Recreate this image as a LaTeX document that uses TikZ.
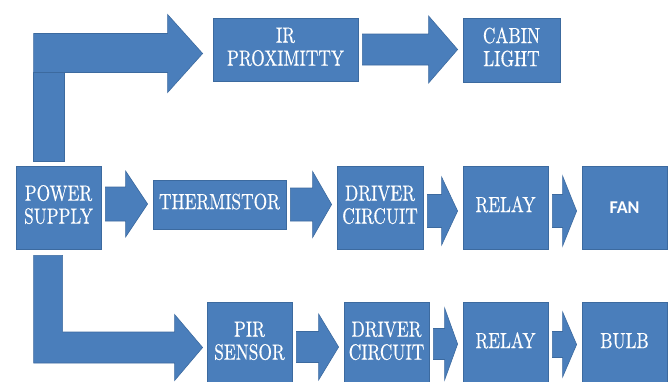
\documentclass[tikz,border=0pt]{standalone}
\usepackage{fontspec}
\newfontfamily\blockfont{lmroman10-regular.otf}[FakeBold=0.6]
\newfontfamily\fanfont{Carlito}
\usetikzlibrary{calc}

\definecolor{blockblue}{HTML}{4A7EBB}
\definecolor{blockedge}{HTML}{3C6A9F}

% narrow, stacked block caption
\newcommand{\BlockText}[1]{\scalebox{0.79}[1]{\begin{tabular}{@{}c@{}}#1\end{tabular}}}

\tikzset{
    block/.style={
        fill=blockblue,
        draw=blockedge,
        line width=0.8pt,
        text=white,
        align=center,
        inner sep=0pt,
        font=\blockfont\fontsize{22}{23}\selectfont
    },
    flowarrow/.style={fill=blockblue, draw=blockedge, line width=0.6pt, line join=miter}
}

% block arrow from one box to the next:
% #1 from, #2 to, #3 vertical shift, #4 shaft half height, #5 head half height, #6 head length
\newcommand{\BlockArrow}[6]{%
    \coordinate (tail) at ($(#1.east)+(4,#3)$);
    \coordinate (tip) at ($(tail -| #2.west)+(-5,0)$);
    \draw[flowarrow] ($(tail)+(0,-#4)$) -- ($(tip)+(-#6,-#4)$) -- ($(tip)+(-#6,-#5)$)
        -- (tip) -- ($(tip)+(-#6,#5)$) -- ($(tip)+(-#6,#4)$) -- ($(tail)+(0,#4)$) -- cycle;
}

\begin{document}
\begin{tikzpicture}[x=1pt,y=-1pt]

% page
\fill[white] (0,0) rectangle (668,381);
\useasboundingbox (0,0) rectangle (668,381);

% =====================================================
% BLOCKS
% =====================================================
\node[block, minimum width=85pt, minimum height=83pt] (psu) at (58.5,207.5) {\BlockText{POWER\\SUPPLY}};

% top row
\node[block, minimum width=145pt, minimum height=63pt] (ir) at (285.5,49.5) {\BlockText{IR\\PROXIMITTY}};
\node[block, minimum width=97pt, minimum height=64pt] (cab) at (511.5,50) {\BlockText{CABIN\\LIGHT}};

% middle row
\node[block, minimum width=133pt, minimum height=49pt] (th) at (219.5,204.5) {\BlockText{THERMISTOR}};
\node[block, minimum width=86pt, minimum height=83pt] (drv1) at (380,207.5) {\BlockText{DRIVER\\CIRCUIT}};
\node[block, minimum width=85pt, minimum height=83pt] (rly1) at (505.5,207.5) {\BlockText{RELAY}};
\node[block, minimum width=85pt, minimum height=83pt,
      font=\fanfont\bfseries\fontsize{18}{20}\selectfont] (fan) at (624.5,207.5) {FAN};

% bottom row
\node[block, minimum width=85pt, minimum height=83pt] (pir) at (249.5,343.5) {\BlockText{PIR\\SENSOR}};
\node[block, minimum width=85pt, minimum height=83pt] (drv2) at (386.5,343.5) {\BlockText{DRIVER\\CIRCUIT}};
\node[block, minimum width=85pt, minimum height=83pt] (rly2) at (505.5,343.5) {\BlockText{RELAY}};
\node[block, minimum width=85pt, minimum height=83pt] (bulb) at (624.5,343.5) {\BlockText{BULB}};

% =====================================================
% BENT ARROWS OUT OF THE SUPPLY
% =====================================================
\coordinate (upfoot) at ($(psu.north west)+(18,-4)$);
\coordinate (uptip) at ($(ir.west)+(-10,4)$);
\draw[flowarrow] ($(upfoot |- uptip)+(0,-20)$) -- ($(uptip)+(-35,-20)$) -- ($(uptip)+(-35,-39)$)
    -- (uptip) -- ($(uptip)+(-35,39)$) -- ($(uptip)+(-35,19)$) -- ($(upfoot |- uptip)+(0,19)$) -- cycle;
\draw[flowarrow] (upfoot) rectangle ($(upfoot |- uptip)+(31,19)$);

\coordinate (downfoot) at ($(psu.south west)+(18,6)$);
\coordinate (downtip) at ($(pir.west)+(-4,4)$);
\draw[flowarrow] (downfoot) -- ($(downfoot |- downtip)+(0,15.5)$) -- ($(downtip)+(-28,15.5)$)
    -- ($(downtip)+(-28,33)$) -- (downtip) -- ($(downtip)+(-28,-33)$) -- ($(downtip)+(-28,-15.5)$)
    -- ($(downfoot |- downtip)+(29,-15.5)$) -- ($(downfoot)+(29,0)$) -- cycle;

% =====================================================
% STRAIGHT ARROWS
% =====================================================
\BlockArrow{ir}{cab}{0}{15.5}{33.5}{29}

\BlockArrow{psu}{th}{-3.5}{17}{33}{22}
\BlockArrow{th}{drv1}{0}{16.5}{33}{19}
\BlockArrow{drv1}{rly1}{3.5}{16.5}{34}{16}
\BlockArrow{rly1}{fan}{3.5}{16.5}{35}{14}

\BlockArrow{pir}{drv2}{3.5}{15.5}{33}{20}
\BlockArrow{drv2}{rly2}{0.5}{15.5}{36}{13}
\BlockArrow{rly2}{bulb}{1}{13}{32.5}{14}

\end{tikzpicture}
\end{document}
